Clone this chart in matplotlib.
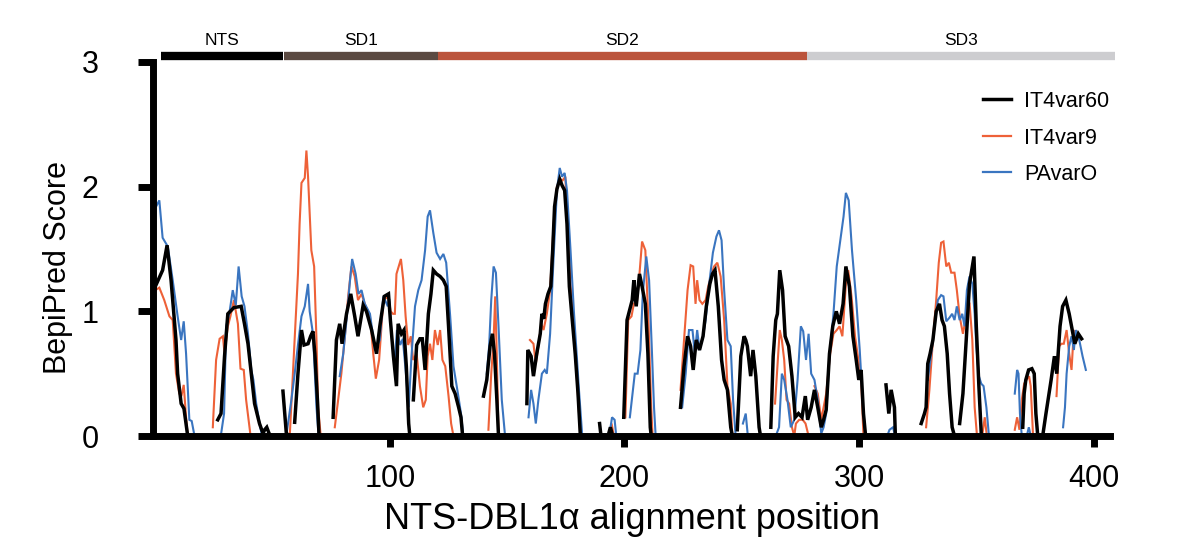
import matplotlib
matplotlib.use("Agg")
import matplotlib.pyplot as plt
import numpy as np

plt.rcParams['font.family'] = ['Liberation Sans', 'DejaVu Sans']

series_names = ['IT4var60', 'IT4var9', 'PAvarO']

# (alignment position, BepiPred score), one list per stretch of line
it4var60 = [
    [(0, 1.2), (2.4, 1.3), (3.1, 1.33), (5, 1.53), (6.7, 1.25), (8.8, 0.77), (9.5, 0.5), (11, 0.26),
     (12.2, 0.22), (13.8, 0)],
    [(26.6, 0.13), (28, 0.18), (29.5, 0.64), (30.9, 0.98), (33.5, 1.03), (36.6, 1.04), (38, 0.9),
     (39.5, 0.74), (40.9, 0.5), (42.3, 0.26), (44.4, 0.1), (45.9, 0.02), (46.6, 0.05), (47.5, 0.07),
     (48.5, 0.02), (49.5, 0)],
    [(54.4, 0.36), (55.8, 0.03), (56.5, 0)],
    [(59.4, 0.11), (60.8, 0.5), (62.3, 0.85), (63.4, 0.73), (65.1, 0.74), (66.2, 0.8), (67.2, 0.84),
     (68, 0.66), (69.1, 0.29), (69.8, 0)],
    [(75.8, 0.15), (77.2, 0.77), (78.6, 0.9), (79.6, 0.74), (81.5, 0.98), (83.3, 1.14), (85, 0.96),
     (86.4, 0.8), (88.6, 1.05), (90, 1.0), (92.2, 0.85), (94.3, 0.66), (95.7, 0.88), (97.6, 1.12),
     (99.4, 1.14), (100.2, 0.93), (101.5, 0.64), (102.8, 0.4), (103.5, 0.9), (104.9, 0.82), (106, 0.85),
     (107, 0.56), (108, 0.1), (108.5, 0)],
    [(110, 0.29), (111.4, 0.73), (112.8, 0.78), (113.8, 0.78), (115, 0.53), (116.4, 0.98), (117.5, 1.14),
     (118.5, 1.33), (119.9, 1.3), (121.4, 1.28), (122.8, 1.25), (124, 1.2), (125, 0.88), (126.4, 0.4),
     (127.8, 0.34), (129.3, 0.23), (130.3, 0.15), (131, 0)],
    [(139.9, 0.32), (141.3, 0.45), (142.7, 0.72), (143.7, 0.82), (144.6, 0.66), (145.6, 0.29), (146.3, 0)],
    [(158.4, 0.26), (158.8, 0.69), (160.2, 0.64), (161.2, 0.48), (162.6, 0.66), (164.1, 0.82),
     (164.8, 0.98), (165.6, 0.94), (166.3, 1.06), (167.4, 1.14), (168.6, 1.2), (169.4, 1.49),
     (170.2, 1.84), (171.2, 1.98), (172.4, 2.06), (173.4, 2.01), (174.5, 1.97), (175.5, 1.7),
     (176.5, 1.2), (177.6, 0.96), (179, 0.66), (180.2, 0.34), (181.2, 0)],
    [(189.4, 0.1), (190, 0)],
    [(193, 0), (194, 0.07), (195, 0)],
    [(199.7, 0.15), (201.1, 0.93), (201.8, 0.98), (203.3, 1.09), (204, 1.25), (205, 1.04), (206.4, 1.3),
     (207.5, 1.2), (208.9, 1.06), (210, 0.66), (211, 0.07), (211.4, 0)],
    [(223.9, 0.23), (225.4, 0.56), (226.9, 0.8), (228.2, 0.72), (229.3, 0.53), (230.6, 0.77), (232, 0.69),
     (233.5, 0.8), (234.9, 1.04), (236.4, 1.22), (237.5, 1.3), (238.6, 1.33), (240, 1.04), (241.4, 0.61),
     (242.5, 0.45), (243.9, 0.37), (245.3, 0.07), (246, 0)],
    [(248.1, 0.05), (249.6, 0.64), (251, 0.8), (251.7, 0.77), (252.4, 0.72), (253.8, 0.48), (254.8, 0.69),
     (256, 0.48), (257.4, 0.07), (258, 0)],
    [(262.4, 0.07), (263.4, 0.64), (264.5, 0.93), (265.2, 0.98), (266.2, 1.33), (267.4, 1.17), (268.5, 0.8),
     (270, 0.72), (271.4, 0.48), (272.8, 0.15), (274.2, 0.18), (275.7, 0.15), (277.1, 0.32), (278.1, 0.13),
     (279.6, 0.23), (281, 0.37), (282.4, 0.23), (283.9, 0.07), (284.9, 0.13), (286, 0.21), (287.4, 0.66),
     (288.8, 0.88), (290.3, 1.0), (291.7, 0.9), (293.2, 1.06), (294.4, 1.36), (295.9, 1.2), (297.4, 0.8),
     (298.8, 0.61), (299.9, 0.45), (300.9, 0.53), (301.9, 0.18), (302.8, 0)],
    [(311.5, 0.41), (312.7, 0.18), (313.7, 0.37), (315.1, 0.23), (315.5, 0)],
    [(326.5, 0.1), (327.9, 0.18), (328.6, 0.23), (329.3, 0.58), (330.3, 0.66), (331.5, 0.77), (332.9, 1.0),
     (334.3, 1.06), (335.4, 0.93), (336.4, 0.88), (337.6, 0.66), (338.6, 0.34), (339.7, 0.07), (340.7, 0)],
    [(342.9, 0.1), (344.3, 0.34), (345.7, 0.77), (347.1, 1.22), (348.3, 1.36), (349, 1.44), (350, 0.88),
     (351.1, 0.4), (352.1, 0.02)],
    [(369.8, 0.07), (370.4, 0.34), (371.1, 0.45), (372.3, 0.53), (373.7, 0.54), (374.7, 0.5), (375.4, 0.18),
     (376.2, 0), (378.3, 0), (379.7, 0.18), (381.9, 0.45), (383.3, 0.64), (384.3, 0.5), (385.7, 0.88),
     (386.8, 1.04), (388.2, 1.09), (389.6, 0.98), (390.6, 0.88), (392, 0.74), (393.5, 0.82), (394.9, 0.78)],
]

it4var9 = [
    [(0, 1.17), (1.7, 1.19), (3.8, 1.09), (6, 0.96), (7.4, 0.93), (8.8, 0.5), (10.2, 0.34), (11.1, 0.32),
     (12.1, 0.41), (13.1, 0.15), (13.8, 0)],
    [(24.5, 0.07), (25.9, 0.61), (27.4, 0.78), (28.8, 0.8), (29.5, 0.66), (30.9, 0.88), (32, 0.96),
     (33.5, 1.09), (35.2, 0.9), (36.3, 0.54), (37.7, 0.53), (38.7, 0.29), (40.6, 0)],
    [(57.3, 0), (59.4, 0.77), (60.8, 1.3), (61.5, 1.7), (62.3, 2.03), (63.7, 2.07), (64.4, 2.29),
     (65.1, 2.08), (66.5, 1.49), (67.7, 1.36), (68.7, 0.77), (69.4, 0.23), (70.5, 0)],
    [(76.5, 0.07), (79.3, 0.5), (80.8, 0.8), (82.2, 1.12), (83.6, 1.36), (85, 1.28), (86.4, 1.09),
     (87.9, 1.14), (89.3, 1.06), (91.5, 0.96), (92.9, 0.66), (94, 0.46), (95.4, 0.61), (97.2, 1.09),
     (99.4, 1.12), (100.3, 1.0), (101.3, 0.98), (102.1, 0.98), (102.8, 1.3), (104.7, 1.42), (105.7, 1.25),
     (106.7, 0.96), (107.8, 0.73), (108.9, 0.8), (109.9, 0.61), (111.4, 0.66), (112.8, 0.4), (114.2, 0.23),
     (115.3, 0.29), (116.1, 0.64), (117.1, 0.74), (118.1, 0.61), (119.2, 0.85), (120.4, 0.73),
     (121.4, 0.85), (122.4, 0.61), (123.6, 0.56), (125, 0.32), (126.1, 0.1), (127.1, 0)],
    [(142, 0.05), (143.2, 0.5), (144.2, 0.77), (144.9, 1.12), (145.6, 0.62), (146.3, 0)],
    [(159.7, 0.77), (161.2, 0.74), (162.2, 0.58), (163.3, 0.72), (164.5, 0.9), (165.5, 0.85), (166.9, 0.98),
     (168.3, 1.17), (169.8, 1.7), (171.2, 2.0), (172.6, 2.06), (173.6, 2.05), (174.8, 2.08), (175.9, 1.57),
     (177.6, 1.04), (179.6, 0.5), (181.2, 0)],
    [(193.5, 0), (194.5, 0.1), (195.5, 0)],
    [(200.4, 0.15), (201.6, 0.93), (203, 0.96), (204, 1.06), (205.4, 1.09), (206.4, 1.3), (207.5, 1.56),
     (208.9, 1.49), (210.3, 0.88), (211.4, 0.23), (212, 0)],
    [(223.9, 0.37), (225.4, 0.77), (226.9, 1.17), (228.2, 1.37), (229.3, 1.36), (230.3, 1.06), (231, 1.25),
     (232, 1.09), (233.2, 1.06), (234.6, 1.09), (235.7, 1.2), (236.8, 1.28), (238.2, 1.36), (239.6, 1.39),
     (241, 1.28), (242.5, 0.93), (243.9, 0.4), (245.3, 0.26), (246, 0)],
    [(264.2, 0.26), (265.2, 0.56), (266.2, 0.85), (267.1, 0.77), (268.1, 0.61), (269.1, 0.29), (270.2, 0.26),
     (271.4, 0.07), (272.4, 0), (273.1, 0.1), (274.5, 0.13), (276, 0.13), (277.2, 0.1), (278.5, 0)],
    [(281, 0.4), (282.4, 0.34), (283.9, 0.13), (284.9, 0.23), (286, 0.34), (287.7, 0.66), (289.1, 0.82),
     (290.5, 0.85), (291.7, 0.88), (292.9, 0.8), (294.4, 1.22), (295.4, 1.33), (296.8, 1.12), (298.3, 0.8),
     (299.7, 0.61), (300.9, 0.45), (301.9, 0)],
    [(328.6, 0.07), (330, 0.37), (331.5, 0.77), (332.9, 1.09), (334, 1.39), (335, 1.55), (336, 1.56),
     (337.2, 1.36), (338.3, 1.39), (339.3, 1.31), (340.7, 1.31), (341.7, 1.17), (342.9, 0.96), (344.3, 0.82),
     (345.7, 0.96), (347.1, 1.07), (348.3, 0.77), (349.3, 0.23), (350.3, 0)],
    [(352.5, 0), (353.6, 0.15), (354.5, 0)],
    [(366.4, 0.05), (367.4, 0.15), (368.4, 0.05), (369.4, 0.29), (370.4, 0.42), (371.4, 0.45), (372.5, 0.48),
     (373.2, 0.4), (374.2, 0)],
    [(384.2, 0.32), (385.3, 0.72), (386.3, 0.74), (387.3, 0.74), (388.5, 0.85), (389.6, 0.66), (390.6, 0.53),
     (391.6, 0.85), (392.7, 0.77)],
]

pavaro = [
    [(0.3, 1.84), (1.7, 1.89), (3.1, 1.59), (5.3, 1.52), (7.4, 1.25), (9.5, 0.96), (11, 0.77), (12.1, 0.92),
     (13.1, 0.66), (14.5, 0.13), (15.5, 0.12), (16.7, 0)],
    [(27.9, 0), (29.3, 0.18), (30.2, 0.88), (31.6, 0.99), (33, 1.17), (34.3, 1.05), (35.5, 1.36),
     (36.8, 1.12), (38, 1.04), (39.5, 0.82), (40.9, 0.53), (41.8, 0.45), (43, 0.26), (44.7, 0.07), (45.6, 0)],
    [(55.8, 0), (58, 0.29), (59.4, 0.5), (60.8, 0.73), (62.3, 0.96), (63.7, 1.04), (65.1, 1.22), (65.8, 1.0),
     (67.2, 0.82), (68.7, 0.23), (69.6, 0)],
    [(78.6, 0.48), (80.1, 0.66), (81.5, 0.93), (83, 1.25), (83.9, 1.42), (85.4, 1.3), (86.6, 1.14),
     (87.9, 1.17), (89.3, 1.06), (91.5, 0.98), (93.6, 0.69), (95.7, 0.77), (97.2, 1.12), (99.1, 1.04),
     (99.7, 1.1), (101, 0.73), (102.1, 0.61), (103, 0.85), (104.4, 0.73), (105.5, 0.78), (106.7, 0.53),
     (108, 0.23), (109.2, 0.64), (110.7, 1.04), (112.1, 1.17), (113.5, 1.25), (115, 1.49), (116.1, 1.76),
     (117.1, 1.81), (118.5, 1.63), (119.9, 1.47), (121.4, 1.42), (122.8, 1.46), (124, 1.39), (125.7, 0.96),
     (127.1, 0.56), (129, 0.34), (130.3, 0.18), (131.3, 0)],
    [(141.3, 0.5), (142.3, 0.72), (143.2, 1.09), (144.2, 1.36), (145.2, 1.31), (146.3, 0.88), (147.7, 0.29),
     (149.1, 0)],
    [(159.1, 0.15), (160.2, 0.37), (161.2, 0.26), (162.2, 0.1), (163.3, 0.29), (164.8, 0.5), (166, 0.53),
     (166.9, 0.5), (168.3, 0.82), (169.8, 1.44), (171.2, 1.97), (172.4, 2.15), (173.4, 2.08), (174.5, 2.11),
     (175.5, 1.97), (177, 1.49), (178.5, 0.98), (180.6, 0.37), (182, 0)],
    [(193.5, 0), (194.7, 0.15), (195.8, 0.13), (196.5, 0)],
    [(202.3, 0.15), (204.4, 0.5), (205.6, 0.5), (206.8, 0.69), (207.8, 1.14), (209.3, 1.44), (210.5, 1.25),
     (211.6, 0.73), (212.6, 0.23), (213.3, 0)],
    [(224.6, 0.23), (226.1, 0.5), (227.5, 0.85), (229, 0.85), (230, 0.66), (231, 0.85), (232, 0.69),
     (233.5, 0.8), (234.6, 0.93), (236, 1.2), (237.7, 1.47), (239.2, 1.6), (240.3, 1.65), (241.4, 1.57),
     (242.5, 1.17), (243.9, 0.77), (245.3, 0.72), (246.3, 0.29), (247.4, 0)],
    [(250.5, 0.1), (251.7, 0.18), (252.6, 0)],
    [(264.5, 0), (265.9, 0.07), (267.1, 0.5), (268.1, 0.45), (269.5, 0.29), (270.9, 0.07), (272.4, 0.13),
     (273.8, 0.45), (275.2, 0.88), (276.2, 0.84), (277.4, 0.61), (278.5, 0.82), (279.6, 0.5), (281, 0.45),
     (282.4, 0.29), (283.9, 0.02), (284.9, 0.07), (286, 0.18), (287.4, 0.64), (289.1, 0.98), (290.5, 1.36),
     (292, 1.57), (293.4, 1.76), (294.4, 1.95), (295.6, 1.89), (297, 1.49), (298.8, 1.09), (300.3, 0.69),
     (301.7, 0.23), (302.8, 0)],
    [(312, 0), (313, 0.05), (314.5, 0.07), (315.4, 0)],
    [(329.3, 0.45), (330.8, 0.66), (332.2, 0.88), (333.6, 1.09), (335, 1.13), (336, 1.12), (337.2, 0.92),
     (338.6, 0.95), (339.7, 0.98), (340.7, 0.93), (341.7, 1.04), (342.9, 0.93), (344, 0.98), (345, 0.88),
     (346, 1.17), (347.1, 1.28), (348.3, 1.22), (349.3, 0.98), (350, 0.72), (351.1, 0.48), (352.1, 0.42),
     (353.1, 0.4), (354.3, 0.23), (355.4, 0)],
    [(366.4, 0.34), (367.4, 0.53), (368, 0.5), (368.6, 0.18), (369.4, 0), (371.5, 0), (372.4, 0.07),
     (373.2, 0)],
    [(387, 0.07), (387.8, 0.23), (388.5, 0.5), (389.6, 0.72), (390.6, 0.8), (391.6, 0.69), (392.4, 0.85),
     (393.9, 0.77), (395.3, 0.64), (396.7, 0.53)],
]

domain_names = ['NTS', 'SD1', 'SD2', 'SD3']
domain_start = [2.3, 54.8, 120.5, 277.8]
domain_end = [54.4, 120.5, 277.8, 409.2]
domain_colors = ['#000000', '#5b4a42', '#bb543c', '#cdcdd0']

line_colors = ['#000000', '#ee6138', '#3a75c0']
line_widths = [2.5, 1.5, 1.5]


def to_xy(segs):
    xs, ys = [], []
    for s in segs:
        xs += [p[0] for p in s] + [np.nan]
        ys += [p[1] for p in s] + [np.nan]
    return np.array(xs), np.array(ys)


fig = plt.figure(figsize=(12, 5.54), dpi=100)
ax = fig.add_axes([153 / 1200, 118 / 554, 957 / 1200, 374 / 554])

all_series = [it4var60, it4var9, pavaro]
zorders = [4, 2, 3]
for segs, name, c, lw, z in zip(all_series, series_names, line_colors, line_widths, zorders):
    x, y = to_xy(segs)
    ax.plot(x, y, color=c, lw=lw, label=name, zorder=z, solid_joinstyle='miter')

ax.set_xlim(-1, 407)
ax.set_ylim(0, 3)

# domain bar above the plot
for n, s, e, c in zip(domain_names, domain_start, domain_end, domain_colors):
    ax.plot([s, e], [3.05, 3.05], color=c, lw=6, solid_capstyle='butt', clip_on=False)
    ax.text((s + e) / 2, 3.115, n, ha='center', va='bottom', fontsize=12.5)

for side in ['top', 'right']:
    ax.spines[side].set_visible(False)
ax.spines['left'].set_linewidth(5)
ax.spines['bottom'].set_linewidth(5)
ax.spines['left'].set_capstyle('projecting')
ax.spines['bottom'].set_capstyle('projecting')
ax.spines['left'].set_zorder(5)
ax.spines['bottom'].set_zorder(5)

ax.set_xticks([100, 200, 300, 400])
ax.set_yticks([0, 1, 2, 3])
ax.tick_params(axis='x', direction='out', width=5, length=8, labelsize=22, pad=12)
ax.tick_params(axis='y', direction='out', width=5, length=11, labelsize=22, pad=28)

ax.set_xlabel('NTS-DBL1α alignment position', fontsize=26, labelpad=6)
ax.set_ylabel('BepiPred Score', fontsize=22)
ax.yaxis.set_label_coords(-0.084, 0.45)

leg = ax.legend(loc='upper left', bbox_to_anchor=(983 / 1200, 1 - 91 / 554),
                bbox_transform=fig.transFigure, frameon=False, fontsize=15.5,
                handlelength=1.3, handletextpad=0.6, labelspacing=0.72,
                borderpad=0, borderaxespad=0)
for h in leg.get_lines():
    h.set_linewidth(2.5 if h.get_color() == '#000000' else 1.6)

fig.savefig('out.png', dpi=100)
